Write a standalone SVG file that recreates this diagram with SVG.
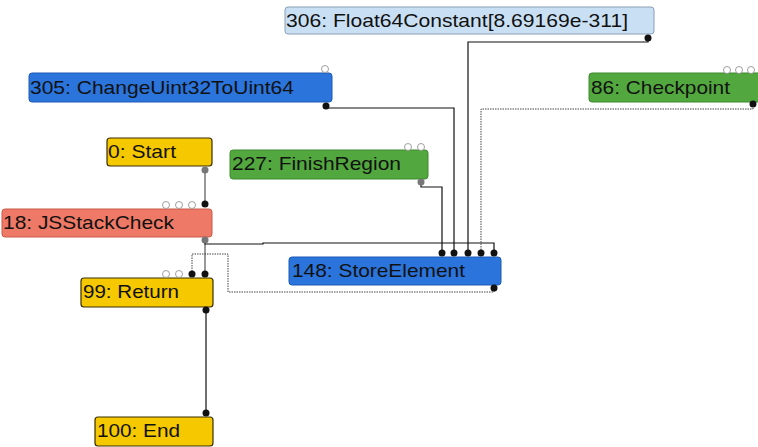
<svg xmlns="http://www.w3.org/2000/svg" width="758" height="447" viewBox="0 0 758 447">
<style>
.n text{font-family:"Liberation Sans",Arial,sans-serif;font-size:18.6px;fill:#111}
.y rect{fill:#f5c800;stroke:#3a3000;stroke-width:1.2}
.g rect{fill:#52a83e;stroke:#3b8a2c;stroke-width:1}
.b rect{fill:#2a74dc;stroke:#1c5bb5;stroke-width:1}
.r rect{fill:#ee7966;stroke:#c95a48;stroke-width:1}
.l rect{fill:#c9e0f4;stroke:#8a9fb4;stroke-width:1}
.e{fill:none;stroke:#111;stroke-width:1.2}
.gr{fill:none;stroke:#555;stroke-width:1.2}
.d{fill:none;stroke:#444;stroke-width:1;stroke-dasharray:1.5 1}
.o{fill:#fff;stroke:#888;stroke-width:0.8}
.f{fill:#111}
.gd{fill:#777}
</style>
<g id="edges">
<path class="gr" d="M205 170V204"/>
<path class="gr" d="M205 240V274"/>
<path class="e" d="M205 240V244H263V243H494V253"/>
<path class="d" d="M494 288V292H228V254H192V274"/>
<path class="e" d="M206 310V413"/>
<path class="e" d="M421 182V187H442V253"/>
<path class="e" d="M326 106V108H454V253"/>
<path class="e" d="M648 38V42H468V253"/>
<path class="d" d="M753 103V109H481V253"/>
</g>
<g id="n306" class="n l"><rect x="285" y="7" width="369" height="27" rx="3"/><text x="286" y="27" textLength="342" lengthAdjust="spacingAndGlyphs">306: Float64Constant[8.69169e-311]</text><circle class="f" cx="648" cy="38" r="3.5"/></g>
<g id="n305" class="n b"><rect x="29" y="73" width="303" height="29" rx="3"/><text x="30" y="93.5" textLength="264" lengthAdjust="spacingAndGlyphs">305: ChangeUint32ToUint64</text><circle class="o" cx="325" cy="69" r="3.5"/><circle class="f" cx="326" cy="106" r="3.5"/></g>
<g id="n86" class="n g"><rect x="589" y="73" width="175" height="29" rx="3"/><text x="591" y="93.5" textLength="139" lengthAdjust="spacingAndGlyphs">86: Checkpoint</text><circle class="o" cx="727" cy="70" r="3.5"/><circle class="o" cx="739" cy="70" r="3.5"/><circle class="o" cx="751" cy="70" r="3.5"/><circle class="f" cx="753" cy="104" r="3.5"/></g>
<g id="n0" class="n y"><rect x="107" y="138" width="105" height="28" rx="3"/><text x="108" y="157.5" textLength="68" lengthAdjust="spacingAndGlyphs">0: Start</text><circle class="gd" cx="205" cy="170" r="3.5"/></g>
<g id="n227" class="n g"><rect x="230" y="150" width="198" height="29" rx="3"/><text x="232" y="170" textLength="169" lengthAdjust="spacingAndGlyphs">227: FinishRegion</text><circle class="o" cx="408" cy="147" r="3.5"/><circle class="o" cx="421" cy="147" r="3.5"/><circle class="gd" cx="421" cy="182" r="3.5"/></g>
<g id="n18" class="n r"><rect x="2" y="209" width="210" height="28" rx="3"/><text x="3" y="228.5" textLength="171" lengthAdjust="spacingAndGlyphs">18: JSStackCheck</text><circle class="o" cx="166" cy="205" r="3.5"/><circle class="o" cx="179" cy="205" r="3.5"/><circle class="o" cx="192" cy="205" r="3.5"/><circle class="f" cx="205" cy="204" r="3.5"/><circle class="gd" cx="205" cy="240" r="3.5"/></g>
<g id="n148" class="n b"><rect x="289" y="257" width="212" height="28" rx="3"/><text x="292" y="277" textLength="173" lengthAdjust="spacingAndGlyphs">148: StoreElement</text><circle class="f" cx="442" cy="253" r="3.5"/><circle class="f" cx="454" cy="253" r="3.5"/><circle class="f" cx="468" cy="253" r="3.5"/><circle class="f" cx="481" cy="253" r="3.5"/><circle class="f" cx="494" cy="253" r="3.5"/><circle class="f" cx="494" cy="288" r="3.5"/></g>
<g id="n99" class="n y"><rect x="81" y="278" width="132" height="29" rx="3"/><text x="83" y="298" textLength="96" lengthAdjust="spacingAndGlyphs">99: Return</text><circle class="o" cx="166" cy="274" r="3.5"/><circle class="o" cx="179" cy="274" r="3.5"/><circle class="f" cx="192" cy="274" r="3.5"/><circle class="f" cx="205" cy="274" r="3.5"/><circle class="f" cx="206" cy="310" r="3.5"/></g>
<g id="n100" class="n y"><rect x="95" y="417" width="118" height="29" rx="3"/><text x="97" y="437" textLength="83" lengthAdjust="spacingAndGlyphs">100: End</text><circle class="f" cx="206" cy="413" r="3.5"/></g>
</svg>
